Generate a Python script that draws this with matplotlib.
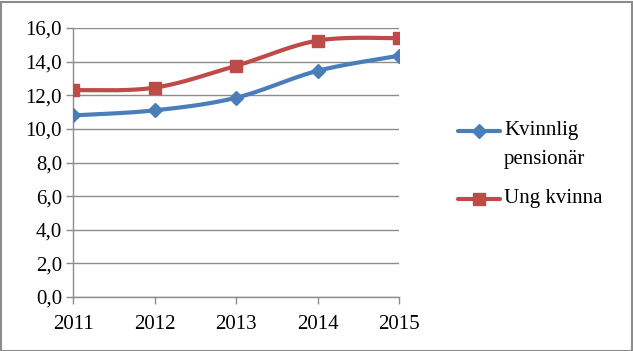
import numpy as np
import matplotlib
matplotlib.use("Agg")
import matplotlib.pyplot as plt
from matplotlib.lines import Line2D

years = [2011, 2012, 2013, 2014, 2015]
pensionar = [10.8, 11.1, 11.85, 13.45, 14.35]
ung_kvinna = [12.3, 12.45, 13.75, 15.25, 15.4]
series_names = ["Kvinnlig\npensionär", "Ung kvinna"]
yticks = [0, 2, 4, 6, 8, 10, 12, 14, 16]

blue = "#4a7ebb"
red = "#be4b48"
font = "Liberation Serif"
fs = 15


def smooth(x, y, n=40):
    x = np.asarray(x, float)
    y = np.asarray(y, float)
    xs, ys = [], []
    for i in range(len(x) - 1):
        p0 = np.array([x[max(i - 1, 0)], y[max(i - 1, 0)]])
        p1 = np.array([x[i], y[i]])
        p2 = np.array([x[i + 1], y[i + 1]])
        p3 = np.array([x[min(i + 2, len(x) - 1)], y[min(i + 2, len(x) - 1)]])
        c1 = p1 + (p2 - p0) / 6.0
        c2 = p2 - (p3 - p1) / 6.0
        t = np.linspace(0, 1, n)[:, None]
        pts = ((1 - t) ** 3) * p1 + 3 * ((1 - t) ** 2) * t * c1 + 3 * (1 - t) * t ** 2 * c2 + t ** 3 * p2
        xs.extend(pts[:, 0])
        ys.extend(pts[:, 1])
    return np.array(xs), np.array(ys)


W, H = 633, 351
fig = plt.figure(figsize=(6.33, 3.51), dpi=100)
ax = fig.add_axes([73 / W, 54 / H, 326 / W, 269 / H])

idx = np.arange(len(years))
styles = [(pensionar, blue, "D", 7), (ung_kvinna, red, "s", 9)]
for vals, col, mk, ms in styles:
    sx, sy = smooth(idx, vals)
    ax.plot(sx, sy, color=col, lw=3, solid_capstyle="round", zorder=3)
    ax.plot(idx, vals, linestyle="none", marker=mk, markersize=ms, color=col,
            markeredgecolor=col, zorder=4)

ax.set_xlim(0, len(years) - 1)
ax.set_ylim(0, 16)
ax.set_yticks(yticks)
ax.set_yticklabels([f"{v:.1f}".replace(".", ",") for v in yticks], fontfamily=font, fontsize=fs)
ax.set_xticks(idx)
ax.set_xticklabels([str(y) for y in years], fontfamily=font, fontsize=fs)
ax.grid(axis="y", color="#8c8c8c", lw=1)
ax.set_axisbelow(True)
for s in ["top", "right"]:
    ax.spines[s].set_visible(False)
for s in ["left", "bottom"]:
    ax.spines[s].set_color("#8c8c8c")
    ax.spines[s].set_linewidth(1)
ax.tick_params(axis="both", color="#8c8c8c", length=5, width=1, pad=3)
ax.tick_params(axis="x", pad=8)

# manual legend (marker aligned with first text line, as in the reference)
leg_y = [131, 199]
for (vals, col, mk, ms), name, yy in zip(styles, series_names, leg_y):
    yf = 1 - yy / H
    fig.add_artist(Line2D([458 / W, 500 / W], [yf, yf], color=col, lw=3,
                          solid_capstyle="round", transform=fig.transFigure))
    fig.add_artist(Line2D([479 / W], [yf], marker=mk, markersize=ms, color=col,
                          markeredgecolor=col, transform=fig.transFigure))
    fig.text(504 / W, 1 - (yy - 10) / H, name, fontfamily=font, fontsize=fs,
             va="top", ha="left", linespacing=1.7)

border = plt.Rectangle((0.5 / W, 0.5 / H), 1 - 2 / W, 1 - 2 / H, transform=fig.transFigure,
                       fill=False, edgecolor="#8c8c8c", lw=1.5)
fig.patches.append(border)

fig.savefig("out.png", dpi=100)
